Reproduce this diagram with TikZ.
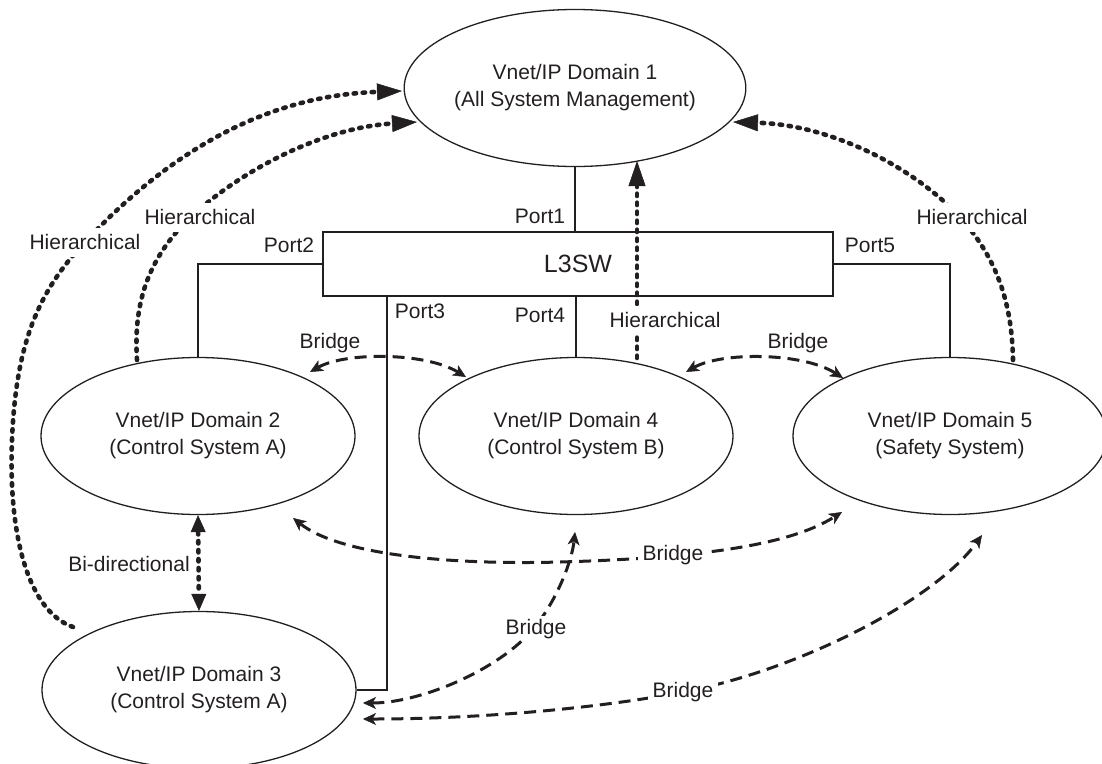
\documentclass[tikz,border=0pt]{standalone}
\usepackage{fontspec}
\setmainfont{Liberation Sans}
\usetikzlibrary{shapes.geometric,arrows.meta}
\definecolor{ink}{RGB}{35,31,32}
\begin{document}
\begin{tikzpicture}[x=1pt,y=-1pt,
  dom/.style={ellipse, draw=ink, line width=1.3pt, minimum width=314pt, minimum height=157pt, inner sep=0pt, align=center, font=\fontsize{21}{27}\selectfont, text=ink},
  swbox/.style={draw=ink, line width=2.4pt, minimum width=510pt, minimum height=64pt, inner sep=0pt, font=\fontsize{25}{30}\selectfont, text=ink},
  wire/.style={draw=ink, line width=2.4pt},
  hier/.style={draw=ink, line width=4.6pt, line cap=round, dash pattern=on 2.4pt off 6.6pt},
  bigtip/.tip={Triangle[length=25pt,width=17pt,line width=0.5pt]},
  smalltip/.tip={Triangle[length=17pt,width=15pt,line width=0.5pt]},
  brtip/.tip={Stealth[length=13pt,width=12pt,inset=3.5pt,line width=0.5pt]},
  bridge/.style={draw=ink, line width=3pt, dash pattern=on 12pt off 7pt, brtip-brtip},
  lbl/.style={font=\fontsize{21}{25}\selectfont, text=ink, inner sep=3pt, text height=15pt, text depth=0pt},
  flbl/.style={lbl, fill=white, inner xsep=5pt, inner ysep=7pt},
]
\useasboundingbox (0,0) rectangle (1102,763);

% domains and switch
\node[dom] (d1) at (575,88) {Vnet/IP Domain 1\\(All System Management)};
\node[dom] (d2) at (198,436) {Vnet/IP Domain 2\\(Control System A)};
\node[dom] (d3) at (199,690) {Vnet/IP Domain 3\\(Control System A)};
\node[dom] (d4) at (576,436) {Vnet/IP Domain 4\\(Control System B)};
\node[dom] (d5) at (950,436) {Vnet/IP Domain 5\\(Safety System)};
\node[swbox] (sw) at (578,264) {L3SW};

% port wires
\draw[wire] (d1.south) -- (d1.south |- sw.north);
\draw[wire] (sw.west) -| (d2.north);
\draw[wire] (sw.east) -| (d5.north);
\draw[wire] (d4.north) -- (d4.north |- sw.south);
\coordinate (p3x) at (387,0);
\draw[wire] (sw.south -| p3x) |- (d3.east);

% hierarchical (dotted)
\coordinate (h1s) at (73,627);
\coordinate (h1e) at (402,91);
\draw[hier,-bigtip] (h1s) .. controls (30,612) and (8,540) .. (12,440) .. controls (16,340) and (40,290) .. (85,242) .. controls (190,130) and (290,95) .. (h1e);
\coordinate (h2s) at (137,360);
\coordinate (h2e) at (417,122);
\draw[hier,-bigtip] (h2s) .. controls (133,300) and (150,255) .. (193,215) .. controls (240,172) and (320,128) .. (h2e);
\coordinate (h3s) at (1013,360);
\coordinate (h3e) at (733,122);
\draw[hier,-bigtip] (h3s) .. controls (1012,300) and (995,255) .. (958,215) .. controls (910,165) and (830,125) .. (h3e);
\coordinate (h4s) at (637,358);
\coordinate (h4e) at (637,161);
\draw[hier,-bigtip] (h4s) -- (h4e);
\draw[hier,smalltip-smalltip] (d2.south) -- (d3.north);

% bridges (dashed)
\coordinate (b1s) at (310,372); \coordinate (b1e) at (466,377);
\draw[bridge] (b1s) .. controls (345,352) and (425,352) .. (b1e);
\coordinate (b2s) at (686,372); \coordinate (b2e) at (843,378);
\draw[bridge] (b2s) .. controls (721,352) and (802,352) .. (b2e);
\coordinate (b3s) at (293,518); \coordinate (b3e) at (842,512);
\draw[bridge] (b3s) .. controls (340,555) and (450,565) .. (560,562) .. controls (700,558) and (790,545) .. (b3e);
\coordinate (b4s) at (363,703); \coordinate (b4e) at (575,532);
\draw[bridge] (b4s) .. controls (420,703) and (500,670) .. (535,627) .. controls (558,598) and (572,560) .. (b4e);
\coordinate (b5s) at (363,719); \coordinate (b5e) at (982,535);
\draw[bridge] (b5s) .. controls (480,719) and (600,708) .. (683,692) .. controls (800,670) and (935,600) .. (b5e);

% labels
\node[lbl] (lp1) at (540,216) {Port1};
\node[lbl] (lp2) at (289,245) {Port2};
\node[lbl] (lp3) at (420,311) {Port3};
\node[lbl] (lp4) at (540,315) {Port4};
\node[lbl] (lp5) at (870,245) {Port5};
\node[flbl] (lh1) at (85,242) {Hierarchical};
\node[flbl] (lh2) at (200,217) {Hierarchical};
\node[flbl] (lh3) at (972,217) {Hierarchical};
\node[flbl] (lh4) at (665,320) {Hierarchical};
\node[lbl] (lbi) at (129,564) {Bi-directional};
\node[lbl] (lb1) at (330,341) {Bridge};
\node[lbl] (lb2) at (798,341) {Bridge};
\node[flbl,inner ysep=4pt] (lb3) at (673,553) {Bridge};
\node[flbl,inner ysep=4pt] (lb4) at (536,627) {Bridge};
\node[flbl,inner ysep=4pt] (lb5) at (683,690) {Bridge};
\end{tikzpicture}
\end{document}
